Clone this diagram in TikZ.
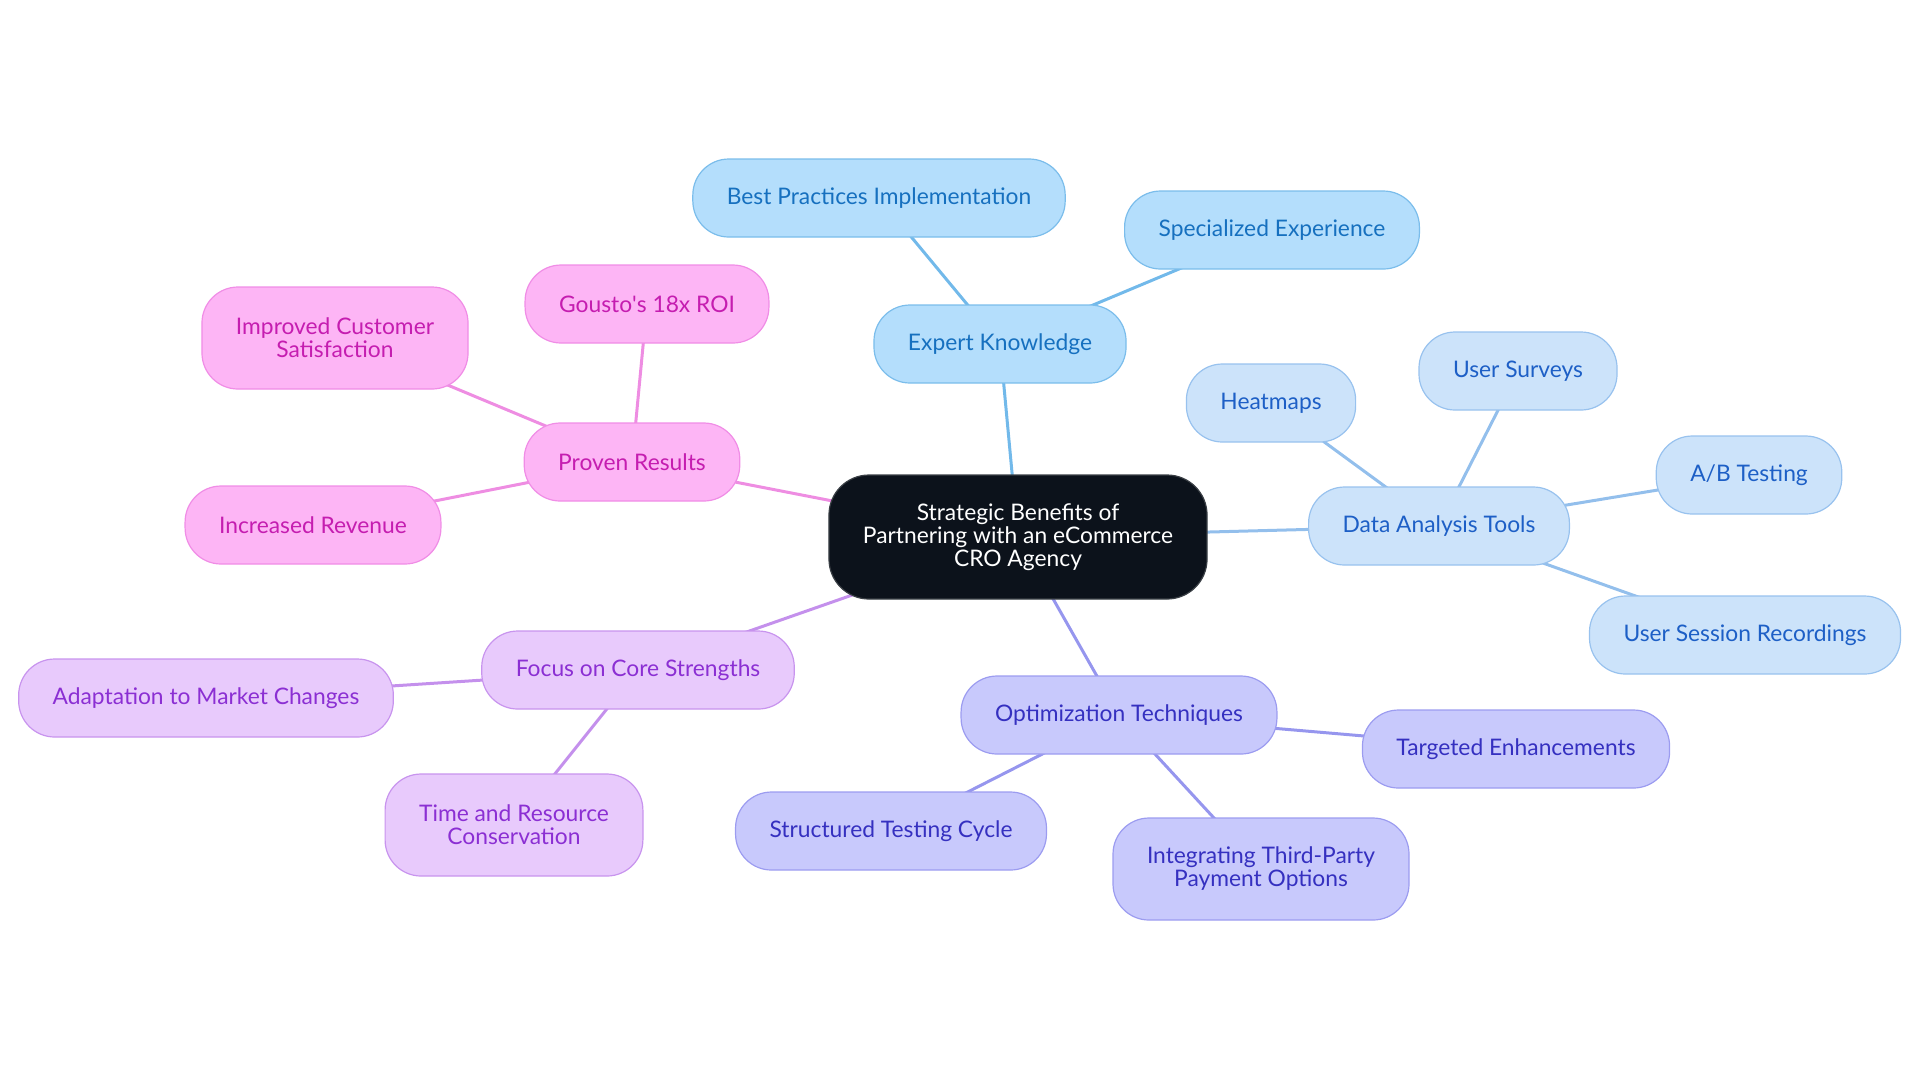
\documentclass[tikz,border=0pt]{standalone}
\usepackage{fontspec}
\setmainfont{Lato}
\usetikzlibrary{backgrounds}
\definecolor{rootfill}{HTML}{0C121B}
\definecolor{rootdraw}{HTML}{3A3F45}
\definecolor{expfill}{HTML}{B4DEFC}
\definecolor{expdraw}{HTML}{7BBDEB}
\definecolor{exptext}{HTML}{1670BF}
\definecolor{explink}{HTML}{72B9EA}
\definecolor{datfill}{HTML}{CCE3FA}
\definecolor{datdraw}{HTML}{98C2EE}
\definecolor{dattext}{HTML}{1D5FC6}
\definecolor{datlink}{HTML}{93BFEC}
\definecolor{optfill}{HTML}{C8C9FC}
\definecolor{optdraw}{HTML}{9C9CF0}
\definecolor{opttext}{HTML}{3530C0}
\definecolor{optlink}{HTML}{9696EE}
\definecolor{focfill}{HTML}{E8CAFC}
\definecolor{focdraw}{HTML}{C894EE}
\definecolor{foctext}{HTML}{8B2FD3}
\definecolor{foclink}{HTML}{C490EC}
\definecolor{profill}{HTML}{FDB5F5}
\definecolor{prodraw}{HTML}{F08DE6}
\definecolor{protext}{HTML}{C51DB0}
\definecolor{prolink}{HTML}{EE8DE2}
\begin{document}
\begin{tikzpicture}[x=0.5pt, y=-0.5pt]
        \tikzstyle{topic}=[rounded corners=18pt, line width=0.6pt, minimum height=39pt, inner xsep=17pt, align=center, font=\fontsize{11.4}{11.5}\selectfont]
        \tikzstyle{root}=[topic, rounded corners=20pt, fill=rootfill, draw=rootdraw, text=white, minimum height=62pt, minimum width=188pt]
        \tikzstyle{expert}=[topic, fill=expfill, draw=expdraw, text=exptext]
        \tikzstyle{data}=[topic, fill=datfill, draw=datdraw, text=dattext]
        \tikzstyle{optim}=[topic, fill=optfill, draw=optdraw, text=opttext]
        \tikzstyle{focus}=[topic, fill=focfill, draw=focdraw, text=foctext]
        \tikzstyle{proven}=[topic, fill=profill, draw=prodraw, text=protext]
        \tikzstyle{twoline}=[minimum height=51pt]
        \tikzstyle{link}=[line width=1.5pt]

        \useasboundingbox (0, 0) rectangle (1920, 1083);
        % centre
        \node[root] (root) at (1018, 537) {Strategic Benefits of\\Partnering with an eCommerce\\CRO Agency};
        % expert knowledge
        \node[expert] (expert) at (1000, 344) {Expert Knowledge};
        \node[expert] (best-practices) at (879, 198) {Best Practices Implementation};
        \node[expert] (specialized) at (1272, 230) {Specialized Experience};
        % data analysis tools
        \node[data] (data-tools) at (1439, 526) {Data Analysis Tools};
        \node[data] (heatmaps) at (1271, 403) {Heatmaps};
        \node[data] (surveys) at (1518, 371) {User Surveys};
        \node[data] (ab-testing) at (1749, 475) {A/B Testing};
        \node[data] (recordings) at (1745, 635) {User Session Recordings};
        % optimization techniques
        \node[optim] (optimization) at (1119, 715) {Optimization Techniques};
        \node[optim] (enhancements) at (1516, 749) {Targeted Enhancements};
        \node[optim] (testing-cycle) at (891, 831) {Structured Testing Cycle};
        \node[optim, twoline] (payment) at (1261, 869) {Integrating Third-Party\\Payment Options};
        % focus on core strengths
        \node[focus] (core) at (638, 670) {Focus on Core Strengths};
        \node[focus] (adaptation) at (206, 698) {Adaptation to Market Changes};
        \node[focus, twoline] (conservation) at (514, 825) {Time and Resource\\Conservation};
        % proven results
        \node[proven] (results) at (632, 462) {Proven Results};
        \node[proven] (roi) at (647, 304) {Gousto\textquotesingle s 18x ROI};
        \node[proven, twoline] (satisfaction) at (335, 338) {Improved Customer\\Satisfaction};
        \node[proven] (revenue) at (313, 525) {Increased Revenue};

        % links, drawn under the nodes
        \begin{scope}[on background layer]
        \draw[link, explink] (root.center) -- (expert.center);
        \foreach \leaf in {best-practices, specialized}
            \draw[link, explink] (expert.center) -- (\leaf.center);
        \draw[link, datlink] (root.center) -- (data-tools.center);
        \foreach \leaf in {heatmaps, surveys, ab-testing, recordings}
            \draw[link, datlink] (data-tools.center) -- (\leaf.center);
        \draw[link, optlink] (root.center) -- (optimization.center);
        \foreach \leaf in {enhancements, testing-cycle, payment}
            \draw[link, optlink] (optimization.center) -- (\leaf.center);
        \draw[link, foclink] (root.center) -- (core.center);
        \foreach \leaf in {adaptation, conservation}
            \draw[link, foclink] (core.center) -- (\leaf.center);
        \draw[link, prolink] (root.center) -- (results.center);
        \foreach \leaf in {roi, satisfaction, revenue}
            \draw[link, prolink] (results.center) -- (\leaf.center);
        \end{scope}
\end{tikzpicture}
\end{document}
